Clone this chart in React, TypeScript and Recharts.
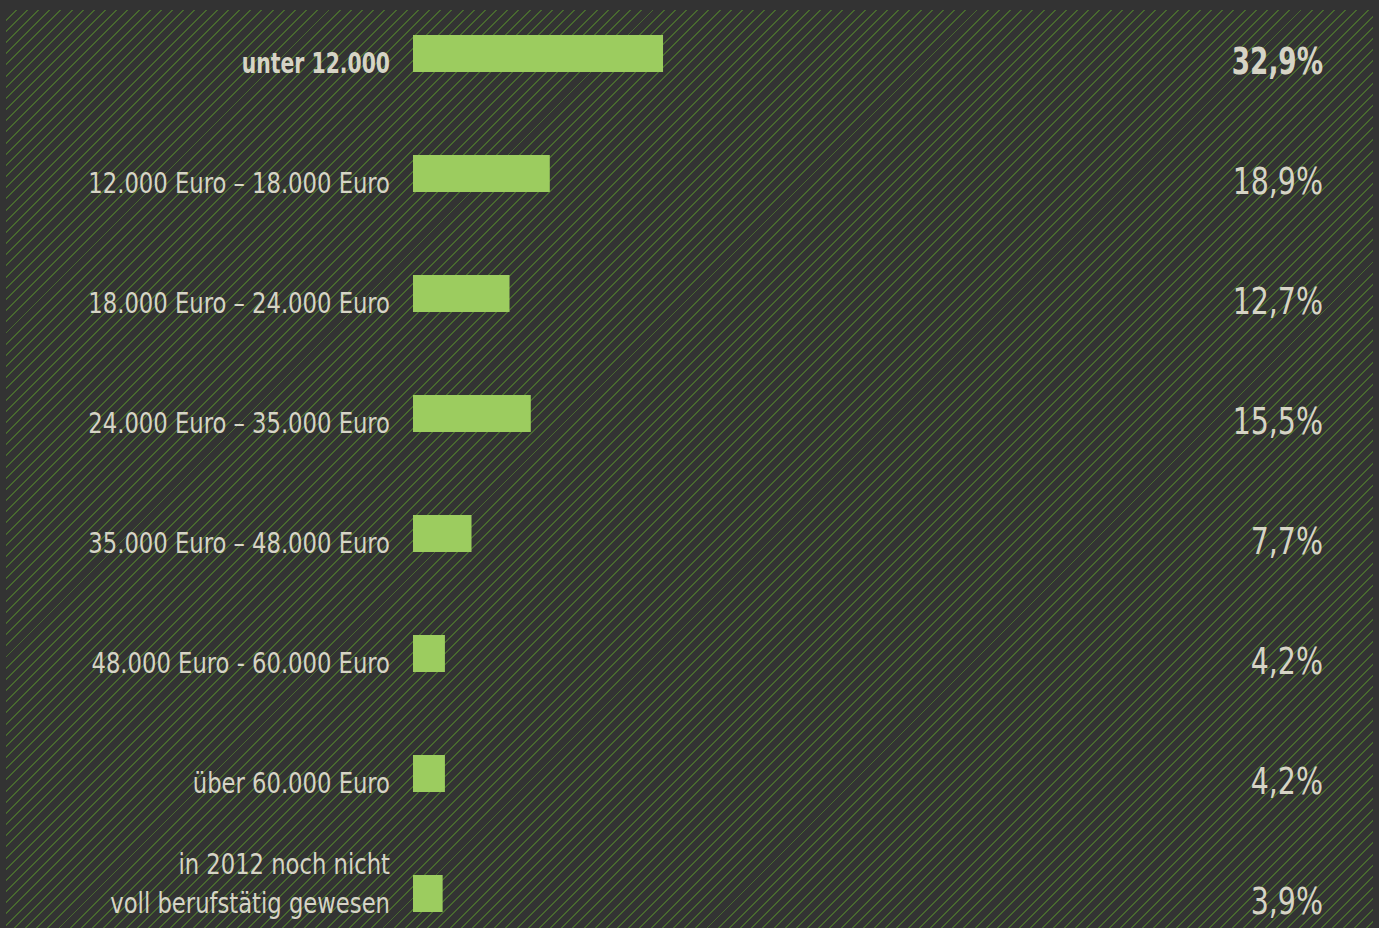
import React from "react";
import { BarChart, Bar, XAxis, YAxis, LabelList } from "recharts";

const categories = [
  "unter 12.000",
  "12.000 Euro – 18.000 Euro",
  "18.000 Euro – 24.000 Euro",
  "24.000 Euro – 35.000 Euro",
  "35.000 Euro – 48.000 Euro",
  "48.000 Euro - 60.000 Euro",
  "über 60.000 Euro",
  "in 2012 noch nicht\nvoll berufstätig gewesen",
];
// bar lengths as drawn in the picture
const barValues = [32.9, 18.0, 12.7, 15.5, 7.7, 4.2, 4.2, 3.9];
const valueLabels = ["32,9%", "18,9%", "12,7%", "15,5%", "7,7%", "4,2%", "4,2%", "3,9%"];

const W = 1379;
const H = 960;
const RIGHT = 54;
const TEXT = "#d6d4c6";
const FONT = '"DejaVu Sans Condensed", "Liberation Sans Narrow", "Liberation Sans", sans-serif';

const rows = categories.map((name, i) => ({ name, v: barValues[i], label: valueLabels[i] }));

function CategoryTick(props: any) {
  const { x, y, payload, index } = props;
  const lines = String(payload.value).split("\n");
  const n = lines.length;
  const bold = index === 0;
  const sx = bold ? 0.78 : 0.87;
  return (
    <g transform={`translate(${x},${y + 20 - (n - 1) * 39}) scale(${sx},1)`}>
      <text
        x={0}
        y={0}
        textAnchor="end"
        fill={TEXT}
        fontFamily={FONT}
        fontSize={29}
        fontWeight={bold ? 700 : 400}
      >
        {lines.map((l, i) => (
          <tspan key={i} x={0} dy={i === 0 ? 0 : 39}>
            {l}
          </tspan>
        ))}
      </text>
    </g>
  );
}

function PctLabel(props: any) {
  const { y, height, value, index } = props;
  const bold = index === 0;
  return (
    <g transform={`translate(${W - RIGHT - 2},${y + height / 2 + 20}) scale(${bold ? 0.79 : 0.855},1)`}>
      <text
        x={0}
        y={0}
        textAnchor="end"
        fill={TEXT}
        fontFamily={FONT}
        fontSize={37}
        fontWeight={bold ? 700 : 400}
      >
        {value}
      </text>
    </g>
  );
}

export default function App() {
  return (
    <div style={{ position: "absolute", left: 0, top: 0, width: W, height: 928, overflow: "hidden", background: "#333333" }}>
      <div
        style={{
          position: "absolute",
          left: 6,
          top: 10,
          width: 1367,
          height: 918,
          background:
            "repeating-linear-gradient(135deg, transparent 0px, transparent 6.5px, #48692f 6.5px, #48692f 7.9px)",
        }}
      />
      <div style={{ position: "absolute", left: 0, top: -7 }}>
        <BarChart width={W} height={H} data={rows} layout="vertical" margin={{ top: 0, right: RIGHT, bottom: 0, left: 0 }}>
          <XAxis type="number" domain={[0, 120]} hide />
          <YAxis
            type="category"
            dataKey="name"
            width={413}
            tickSize={0}
            tickMargin={23}
            axisLine={false}
            tickLine={false}
            tick={<CategoryTick />}
            interval={0}
          />
          <Bar dataKey="v" fill="#9ccc5f" barSize={37} isAnimationActive={false}>
            <LabelList dataKey="label" content={<PctLabel />} />
          </Bar>
        </BarChart>
      </div>
    </div>
  );
}
